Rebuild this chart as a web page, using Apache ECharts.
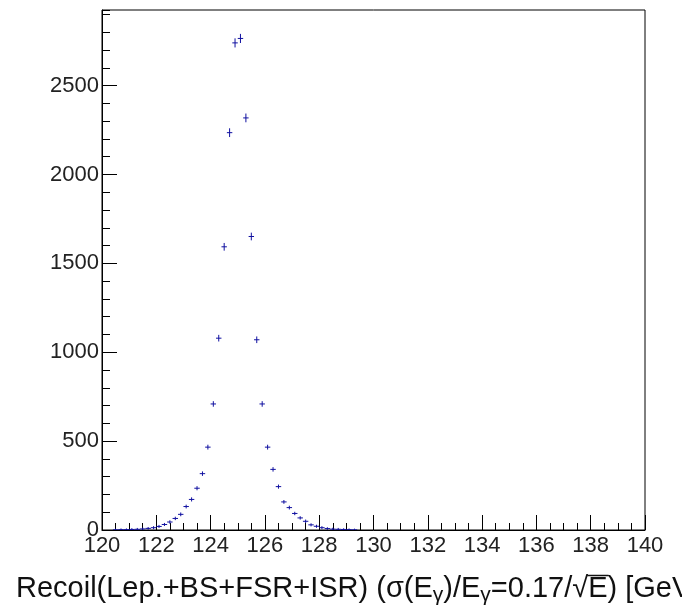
<!DOCTYPE html>
<html><head><meta charset="utf-8">
<script src="https://cdn.jsdelivr.net/npm/echarts@6/dist/echarts.min.js"></script>
<style>html,body{margin:0;padding:0;background:#fff}#c{width:682px;height:614px}</style>
</head><body><div id="c"></div>
<script>
const binCenters = [120.5,120.7,120.9,121.1,121.3,121.5,121.7,121.9,122.1,122.3,122.5,122.7,122.9,123.1,123.3,123.5,123.7,123.9,124.1,124.3,124.5,124.7,124.9,125.1,125.3,125.5,125.7,125.9,126.1,126.3,126.5,126.7,126.9,127.1,127.3,127.5,127.7,127.9,128.1,128.3,128.5,128.7,128.9,129.1,129.3];
const counts = [1,2,2,3,4,6,9,13,20,31,45,65,88,132,172,235,317,466,709,1079,1593,2235,2740,2765,2318,1651,1070,709,466,341,244,158,126,93,68,49,29,21,13,8,5,4,3,2,1];
const errors = [1,1,1,2,2,2,2,3,3,3,4,4,5,5,6,6,7,8,10,13,16,19,20,20,19,16,13,10,8,7,6,5,5,4,4,4,3,3,3,2,2,2,1,1,1];
const halfBin = 0.1;
const xTicks = {min:120, max:140, interval:2};
const yTicks = {min:0, max:2925, interval:500};
const color = '#1010a0';

const data = counts.map((c,i)=>[binCenters[i], c, errors[i]]);
const chart = echarts.init(document.getElementById('c'));
const FF = 'Liberation Sans, Arial, sans-serif';
const labelFont = {fontFamily:FF, fontSize:22, color:'#222'};

// measure title pieces to place the radical's overline
const cv = document.createElement('canvas').getContext('2d');
function tw(t, s){ cv.font = s + 'px ' + FF; return cv.measureText(t).width; }
const titleLeft = 16;
const sqrtX = titleLeft + tw('Recoil(Lep.+BS+FSR+ISR) (σ(E',29) + tw('γ',21) + tw(')/E',29) + tw('γ',21) + tw('=0.17/√',29);
const eW = tw('E',29);

chart.setOption({
  animation:false,
  grid:{left:102, right:37, top:10, bottom:84, show:true, borderColor:'#000', borderWidth:1, backgroundColor:'transparent'},
  xAxis:{type:'value', min:xTicks.min, max:xTicks.max, interval:xTicks.interval,
    axisLine:{lineStyle:{color:'#000', width:1}},
    axisTick:{inside:true, length:15, lineStyle:{color:'#000'}},
    minorTick:{show:true, splitNumber:4, length:7, lineStyle:{color:'#000'}},
    splitLine:{show:false},
    axisLabel:Object.assign({margin:5, formatter:v=>String(v)}, labelFont)},
  yAxis:[{type:'value', min:yTicks.min, max:yTicks.max, interval:yTicks.interval, position:'left',
    axisLine:{show:true, lineStyle:{color:'#000', width:1}},
    axisTick:{show:true, inside:true, length:15, lineStyle:{color:'#000'}},
    splitLine:{show:false},
    axisLabel:Object.assign({margin:3, showMaxLabel:false, formatter:v=>String(v)}, labelFont)},
   {type:'value', min:yTicks.min, max:yTicks.max, interval:100, position:'left', offset:0,
    axisLine:{show:false},
    axisTick:{show:true, inside:true, length:8, lineStyle:{color:'#000'}},
    splitLine:{show:false}, axisLabel:{show:false}}],
  series:[{type:'custom', xAxisIndex:0, yAxisIndex:0, data:data, clip:true,
    renderItem:function(params, api){
      const x = api.value(0), y = api.value(1), e = api.value(2);
      const pL = api.coord([x-halfBin, y]), pR = api.coord([x+halfBin, y]);
      const pT = api.coord([x, y+e]), pB = api.coord([x, y-e]);
      return {type:'group', children:[
        {type:'line', shape:{x1:pL[0], y1:pL[1], x2:pR[0], y2:pR[1]}, style:{stroke:color, lineWidth:1}},
        {type:'line', shape:{x1:pT[0], y1:pT[1]-1, x2:pB[0], y2:pB[1]+1}, style:{stroke:color, lineWidth:1}}
      ]};
    }}],
  graphic:[{type:'text', left:titleLeft, top:574, style:{
    text:'{m|Recoil(Lep.+BS+FSR+ISR) (σ(E}{s|γ}{m|)/E}{s|γ}{m|=0.17/√E) [GeV]}',
    rich:{
      m:{fontFamily:FF, fontSize:29, lineHeight:30, fill:'#111', verticalAlign:'top'},
      s:{fontFamily:FF, fontSize:21, lineHeight:21, fill:'#111', padding:[11,0,0,0], verticalAlign:'top'}
    }}},
   {type:'line', shape:{x1:sqrtX-1, y1:575.5, x2:sqrtX+eW+1, y2:575.5}, style:{stroke:'#111', lineWidth:1.5}}]
});
</script></body></html>
